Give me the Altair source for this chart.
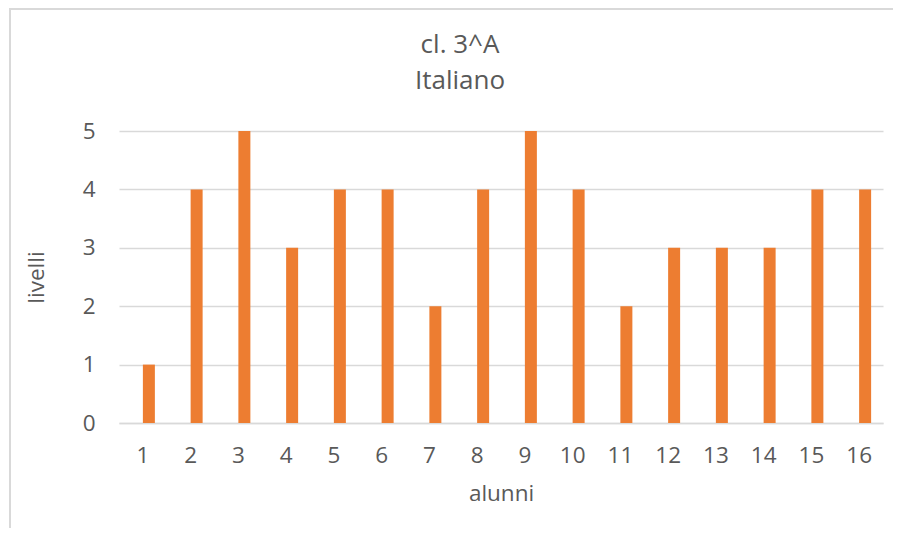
import altair as alt
import pandas as pd

alunni = [str(i) for i in range(1, 17)]
livelli = [1, 4, 5, 3, 4, 4, 2, 4, 5, 4, 2, 3, 3, 3, 4, 4]

df = pd.DataFrame({"alunni": alunni, "livelli": livelli})

FONT = "Open Sans"
GREY = "#595959"
GRID = "#d9d9d9"

bars = alt.Chart(df).mark_bar(color="#ED7D31", width=12, xOffset=6).encode(
    x=alt.X("alunni:N", sort=alunni,
            scale=alt.Scale(paddingInner=0, paddingOuter=0),
            axis=alt.Axis(title="alunni", labelAngle=0, ticks=False,
                          domainColor=GRID, domainWidth=1.5,
                          labelPadding=21, titlePadding=16)),
    y=alt.Y("livelli:Q", scale=alt.Scale(domain=[0, 5]),
            axis=alt.Axis(title="livelli", values=[0, 1, 2, 3, 4, 5],
                          ticks=False, domain=False, gridColor=GRID, gridWidth=1.5,
                          labelPadding=24, titlePadding=34)),
)

frame_left = alt.Chart(df).mark_rule(color=GRID, strokeWidth=2).encode(
    x=alt.value(-109), y=alt.value(-123), y2=alt.value(440))
frame_top = alt.Chart(df).mark_rule(color=GRID, strokeWidth=2).encode(
    x=alt.value(-109), x2=alt.value(800), y=alt.value(-122))

chart = alt.layer(frame_left, frame_top, bars).properties(
    width=764, height=292,
    padding={"left": 111, "top": 123, "right": 10, "bottom": 105},
    autosize=alt.AutoSizeParams(type="none"),
    title=alt.Title(text=["cl. 3^A", "Italiano"], fontSize=26, font=FONT,
                    fontWeight="normal", color=GREY, lineHeight=36,
                    anchor="middle", dx=-41, offset=24, dy=111),
).configure(background="white").configure_view(stroke=None).configure_axis(
    labelFont=FONT, titleFont=FONT, labelColor=GREY, titleColor=GREY,
    labelFontSize=22.5, titleFontSize=22.5, titleFontWeight="normal",
)

chart.save("out.html", embed_options={"renderer": "svg", "actions": False})
